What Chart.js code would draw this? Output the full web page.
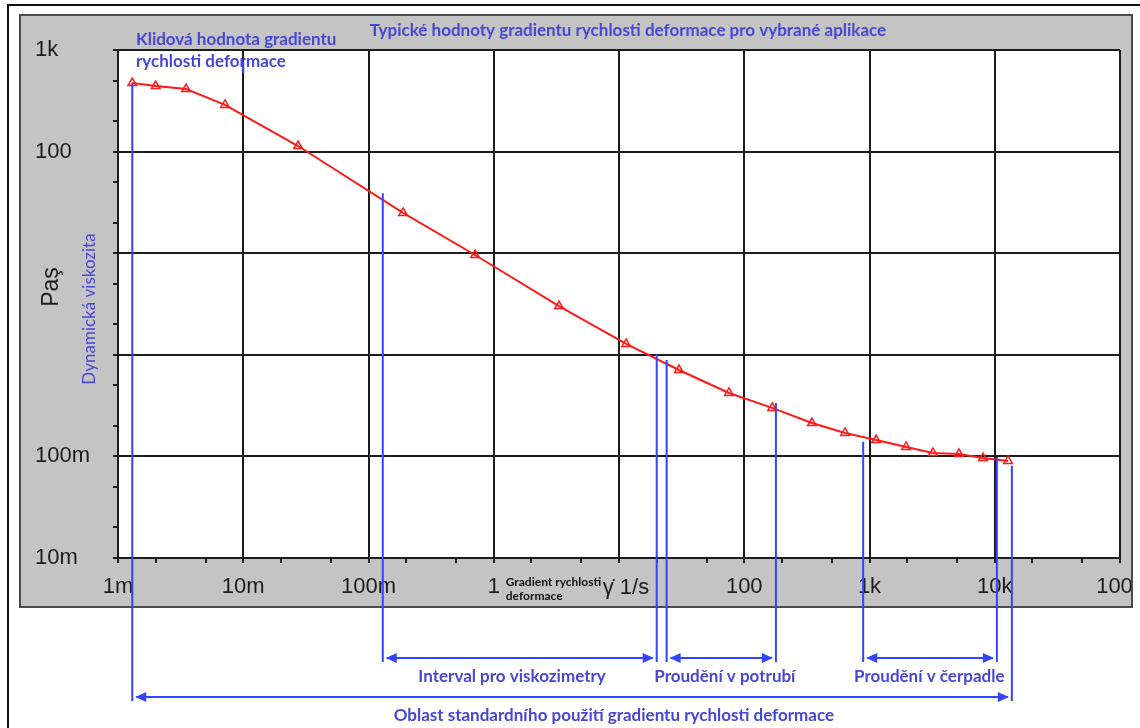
<!DOCTYPE html>
<html>
<head>
<meta charset="utf-8">
<script src="https://cdn.jsdelivr.net/npm/chart.js@4.4.1/dist/chart.umd.min.js"></script>
<style>
  html, body { margin: 0; padding: 0; background: #fff; }
  canvas { display: block; }
</style>
</head>
<body>
<canvas id="c" width="1140" height="728"></canvas>
<script>
// Flow curve: shear rate (1/s) vs dynamic viscosity (Pa·s)
const shearRate = [0.0013, 0.002, 0.0035, 0.00715, 0.0274, 0.189, 0.71, 3.32, 11.4, 30.1,
                   75.5, 167, 347, 638, 1130, 1960, 3210, 5180, 8060, 12760];
const viscosity = [473, 442, 413, 288, 113.5, 24.9, 9.6, 3.02, 1.28, 0.709,
                   0.421, 0.300, 0.213, 0.170, 0.145, 0.124, 0.108, 0.1056, 0.0964, 0.0901];

// Axis decades and their labels
const xTicks = [0.001, 0.01, 0.1, 1, 10, 100, 1000, 10000, 100000];
const xTickLabels = ['1m', '10m', '100m', '1', '', '100', '1k', '10k', '100k'];
const yTicks = [0.01, 0.1, 1, 10, 100, 1000];
const yTickLabels = ['10m', '100m', '', '', '100', '1k'];

// Typical shear-rate ranges for selected applications
const rangeNames = ['Interval pro viskozimetry', 'Proudění v potrubí', 'Proudění v čerpadle',
                    'Oblast standardního použití gradientu rychlosti deformace'];
const rangeFrom = [0.13, 24, 890, 0.0013];
const rangeTo = [20, 179, 10400, 13700];
const rangeFromTop = [39, 0.89, 0.139, 473];
const rangeToTop = [1.02, 0.336, 0.0986, 0.081];
const rangeLabelAt = [1.4, 70, 3000, 9.1];
const rangeRow = [0, 0, 0, 1];

const TITLE = 'Typické hodnoty gradientu rychlosti deformace pro vybrané aplikace';
const REST_NOTE = ['Klidová hodnota gradientu', 'rychlosti deformace'];
const X_TITLE = ['Gradient rychlosti', 'deformace'];
const X_UNIT = 'γ̇ 1/s';
const Y_UNIT = 'Paş';
const Y_TITLE = 'Dynamická viskozita';

const AXIS_FONT = "'Liberation Sans', Arial, sans-serif";
const NOTE_FONT = "Lato, 'Open Sans', sans-serif";
const BLUE_LINE = '#3343ff';
const BLUE_TEXT = '#4747d6';
const INK = '#1c1c1c';

const sameDecade = (v, t) => Math.abs(Math.log10(v) - Math.log10(t)) < 1e-6;
const isDecade = v => Math.abs(Math.log10(v) - Math.round(Math.log10(v))) < 1e-6;

function decadeTicks(decades) {
  const out = [];
  decades.forEach((d, i) => {
    out.push({ value: d });
    if (i < decades.length - 1) { out.push({ value: d * 2 }); out.push({ value: d * 5 }); }
  });
  return out;
}

function labelFor(value, ticks, labels) {
  for (let i = 0; i < ticks.length; i++) if (sameDecade(value, ticks[i])) return labels[i];
  return '';
}

function head(c, x, y, dir) {
  c.beginPath();
  c.moveTo(x, y);
  c.lineTo(x - dir * 11, y - 5);
  c.lineTo(x - dir * 11, y + 5);
  c.closePath();
  c.fill();
}

const decor = {
  id: 'decor',
  beforeDraw(chart) {
    const c = chart.ctx, a = chart.chartArea;
    c.save();
    c.fillStyle = '#fff';
    c.fillRect(0, 0, chart.width, chart.height);
    // outer frame
    c.strokeStyle = '#111';
    c.lineWidth = 2;
    c.beginPath();
    c.moveTo(8, chart.height);
    c.lineTo(8, 5);
    c.lineTo(chart.width, 5);
    c.stroke();
    // grey panel behind the plot
    c.fillStyle = '#c4c4c4';
    c.fillRect(a.left - 98, a.top - 35, a.width + 110, a.height + 84);
    c.strokeStyle = '#4a4a4a';
    c.strokeRect(a.left - 98, a.top - 35, a.width + 110, a.height + 84);
    c.fillStyle = '#fff';
    c.fillRect(a.left, a.top, a.width, a.height);
    c.restore();
  },
  afterDraw(chart) {
    const c = chart.ctx, a = chart.chartArea;
    const xs = chart.scales.x, ys = chart.scales.y;
    const panelRight = a.right + 12;
    c.save();
    // trim the last tick label at the panel edge
    c.fillStyle = '#fff';
    c.fillRect(panelRight + 1, a.top, chart.width - panelRight, a.height + 60);
    c.strokeStyle = '#4a4a4a';
    c.lineWidth = 2;
    c.beginPath();
    c.moveTo(panelRight, a.top - 35);
    c.lineTo(panelRight, a.bottom + 49);
    c.stroke();

    // x-axis caption
    c.fillStyle = '#111';
    c.textBaseline = 'middle';
    c.textAlign = 'left';
    c.font = "bold 12px " + NOTE_FONT;
    const capX = xs.getPixelForValue(1) + 12;
    c.fillText(X_TITLE[0], capX, a.bottom + 24);
    c.fillText(X_TITLE[1], capX, a.bottom + 38);
    c.fillStyle = INK;
    c.font = "22px " + AXIS_FONT;
    c.fillText(X_UNIT, capX + 97, a.bottom + 30);

    // y-axis unit and caption
    c.save();
    c.translate(a.left - 66, a.top + 237);
    c.rotate(-Math.PI / 2);
    c.textAlign = 'center';
    c.fillStyle = INK;
    c.font = "23px " + AXIS_FONT;
    c.fillText(Y_UNIT, 0, 0);
    c.restore();
    c.save();
    c.translate(a.left - 28, a.top + 259);
    c.rotate(-Math.PI / 2);
    c.textAlign = 'center';
    c.fillStyle = BLUE_TEXT;
    c.font = "17px " + NOTE_FONT;
    c.fillText(Y_TITLE, 0, 0);
    c.restore();

    // range markers
    c.strokeStyle = BLUE_LINE;
    c.fillStyle = BLUE_LINE;
    c.lineWidth = 2;
    const rowY = [a.bottom + 100, a.bottom + 139];
    rangeNames.forEach((name, i) => {
      const x0 = xs.getPixelForValue(rangeFrom[i]);
      const x1 = xs.getPixelForValue(rangeTo[i]);
      const y = rowY[rangeRow[i]];
      c.beginPath();
      c.moveTo(x0, ys.getPixelForValue(rangeFromTop[i]));
      c.lineTo(x0, y + 4);
      c.moveTo(x1, ys.getPixelForValue(rangeToTop[i]));
      c.lineTo(x1, y + 4);
      c.moveTo(x0 + 4, y);
      c.lineTo(x1 - 4, y);
      c.stroke();
      head(c, x0 + 3, y, -1);
      head(c, x1 - 3, y, 1);
    });
    // short marker on the 10m gridline
    c.beginPath();
    c.moveTo(xs.getPixelForValue(0.01), a.top + 12);
    c.lineTo(xs.getPixelForValue(0.01), a.top + 23);
    c.stroke();

    // notes
    c.fillStyle = BLUE_TEXT;
    c.textBaseline = 'middle';
    c.font = "bold 17px " + NOTE_FONT;
    rangeNames.forEach((name, i) => {
      c.textAlign = 'center';
      c.fillText(name, xs.getPixelForValue(rangeLabelAt[i]), rowY[rangeRow[i]] + 19);
    });
    c.textAlign = 'center';
    c.fillText(TITLE, (a.left + a.right) / 2 + 9, a.top - 19);
    c.textAlign = 'left';
    c.fillText(REST_NOTE[0], a.left + 18, a.top - 10);
    c.fillText(REST_NOTE[1], a.left + 18, a.top + 12);
    c.restore();
  }
};

const gridColor = ctx => (ctx.tick && isDecade(ctx.tick.value)) ? INK : 'rgba(0,0,0,0)';

new Chart(document.getElementById('c'), {
  type: 'scatter',
  data: {
    datasets: [{
      data: shearRate.map((x, i) => ({ x, y: viscosity[i] })),
      showLine: true,
      borderColor: '#ff1a1a',
      borderWidth: 2,
      pointStyle: 'triangle',
      pointRadius: 5,
      pointBorderWidth: 1.5,
      pointBorderColor: '#ff1a1a',
      pointBackgroundColor: 'rgba(0,0,0,0)',
      tension: 0
    }]
  },
  options: {
    responsive: false,
    devicePixelRatio: 1,
    animation: false,
    layout: { padding: { left: 35, top: 50, right: 20, bottom: 120 } },
    plugins: { legend: { display: false }, tooltip: { enabled: false } },
    scales: {
      x: {
        type: 'logarithmic',
        min: xTicks[0],
        max: xTicks[xTicks.length - 1],
        afterBuildTicks: s => { s.ticks = decadeTicks(xTicks); },
        afterFit: s => { s.height = 50; s.paddingLeft = 0; s.paddingRight = 0; },
        grid: { color: gridColor, lineWidth: 2, tickColor: INK, tickLength: 5 },
        border: { display: true, color: INK, width: 2 },
        ticks: {
          autoSkip: false, maxRotation: 0, minRotation: 0, padding: 11,
          color: INK, font: { family: AXIS_FONT, size: 22 },
          callback: v => labelFor(v, xTicks, xTickLabels)
        }
      },
      y: {
        type: 'logarithmic',
        min: yTicks[0],
        max: yTicks[yTicks.length - 1],
        afterBuildTicks: s => { s.ticks = decadeTicks(yTicks); },
        afterFit: s => { s.width = 83; s.paddingTop = 0; s.paddingBottom = 0; },
        grid: { color: gridColor, lineWidth: 2, tickColor: INK, tickLength: 5 },
        border: { display: true, color: INK, width: 2 },
        ticks: {
          autoSkip: false, crossAlign: 'far',
          color: INK, font: { family: AXIS_FONT, size: 22 },
          callback: v => labelFor(v, yTicks, yTickLabels)
        }
      }
    }
  },
  plugins: [decor]
});
</script>
</body>
</html>
